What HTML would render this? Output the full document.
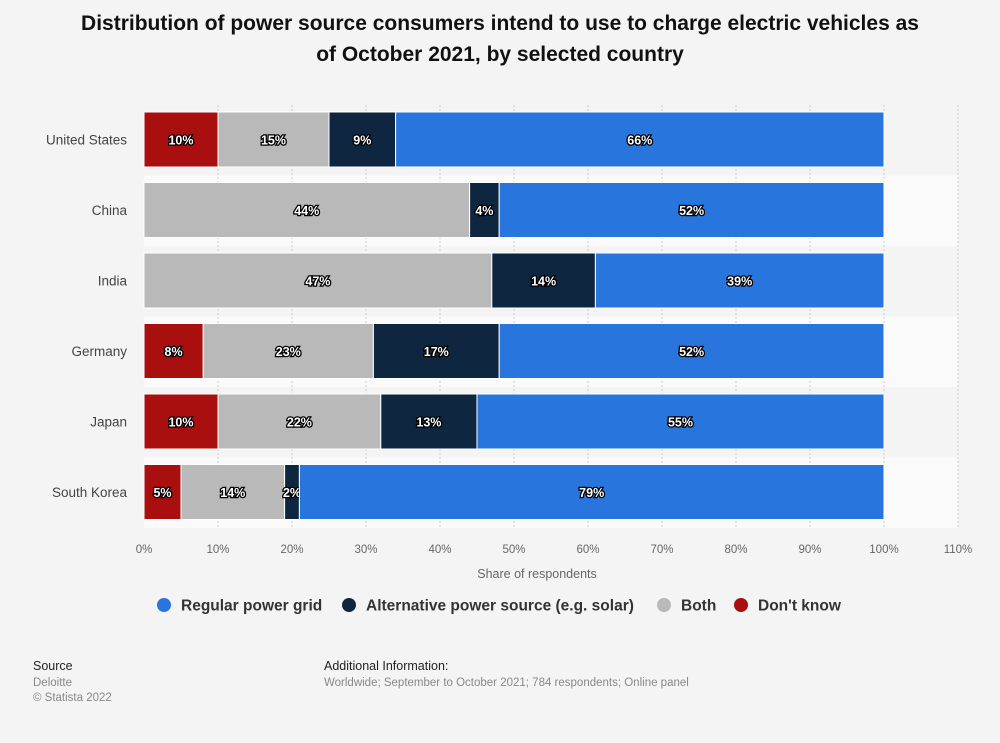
<!DOCTYPE html>
<html><head><meta charset="utf-8"><style>
body{margin:0;background:#f4f4f4;font-family:"Liberation Sans",sans-serif;}
#wrap{position:relative;width:1000px;height:743px;overflow:hidden;}
h1{position:absolute;left:0;top:8px;width:1000px;text-align:center;margin:0;font-size:21px;line-height:31px;font-weight:bold;color:#111;}
.lbl{paint-order:stroke;stroke:#000;stroke-width:2.6px;fill:#fff;font-size:12.5px;font-weight:bold;}
</style></head><body><div id="wrap">
<h1>Distribution of power source consumers intend to use to charge electric vehicles as<br>of October 2021, by selected country</h1>
<svg id="chart" width="1000" height="743" style="position:absolute;left:0;top:0"></svg>
</div>
<script>
const categories=["United States","China","India","Germany","Japan","South Korea"];
const dontKnow=[10,0,0,8,10,5];
const both=[15,44,47,23,22,14];
const alternative=[9,4,14,17,13,2];
const regular=[66,52,39,52,55,79];
const xTicks=[0,10,20,30,40,50,60,70,80,90,100,110];
const seriesNames=["Regular power grid","Alternative power source (e.g. solar)","Both","Don't know"];
const NS="http://www.w3.org/2000/svg";
const svg=document.getElementById('chart');
const x0=144,pxPer=7.4,top0=105,rowH=70.5,barH=55,barOff=7;
const xs=v=>x0+v*pxPer;
function mk(t,a,p){const e=document.createElementNS(NS,t);for(const k in a)e.setAttribute(k,a[k]);(p||svg).appendChild(e);return e;}
categories.forEach((c,i)=>{
 const r=mk('rect',{x:x0,y:top0+i*rowH,width:xs(110)-x0,height:rowH,fill:i%2?'#fafafa':'#f4f4f4'});
 
 
});
xTicks.forEach(t=>{
 if(t>0){
 const l=mk('line',{x1:xs(t),x2:xs(t),y1:top0,y2:top0+rowH*6,stroke:'#ccc','stroke-dasharray':'2,2'});
 
 
 }
 const tx=mk('text',{x:xs(t),y:553,'text-anchor':'middle','font-size':11.5,fill:'#666'});
 tx.textContent=t+'%';
 
 
});
const series=[dontKnow,both,alternative,regular];
const colors=['#a90f0f','#b9b9b9','#0f2640','#2876dd'];
const names=['bar-dont-know','bar-both','bar-alternative','bar-regular'];
categories.forEach((c,i)=>{
 const y=top0+i*rowH+barOff;
 const lab=mk('text',{x:127,y:y+barH/2+5,'text-anchor':'end','font-size':13.5,fill:'#444'});
 lab.textContent=c;
 
 
 let acc=0;
 series.forEach((s,k)=>{
  const v=s[i];
  if(v>0){
   const r=mk('rect',{x:xs(acc),y:y,width:v*pxPer,height:barH,fill:colors[k],stroke:'#fff','stroke-width':1});
   
   
   const t=mk('text',{x:xs(acc+v/2),y:y+barH/2+5,'text-anchor':'middle',class:'lbl'});
   t.textContent=v+'%';
   
   
  }
  acc+=v;
 });
});
const at=mk('text',{x:537,y:578,'text-anchor':'middle','font-size':12.5,fill:'#666'});
at.textContent='Share of respondents';


const legX=[164,349,664,741];
const legC=['#2876dd','#0f2640','#b9b9b9','#a90f0f'];
seriesNames.forEach((n,k)=>{
 const g=mk('g',{});
 
 
 mk('circle',{cx:legX[k],cy:605,r:7,fill:legC[k]},g);
 const t=mk('text',{x:legX[k]+17,y:610.5,'font-size':15.5,'font-weight':'bold',fill:'#333'},g);
 t.textContent=n;
});
function txt(s,x,y,sz,col,name){const t=mk('text',{x:x,y:y,'font-size':sz,fill:col});t.textContent=s;

}
txt('Source',33,670,12.5,'#222','source-heading');
txt('Deloitte',33,686,11.5,'#888','source-name');
txt('© Statista 2022',33,701,11.5,'#888','copyright');
txt('Additional Information:',324,670,12.5,'#222','additional-info-heading');
txt('Worldwide; September to October 2021; 784 respondents; Online panel',324,686,11.5,'#888','additional-info-text');
</script></body></html>
